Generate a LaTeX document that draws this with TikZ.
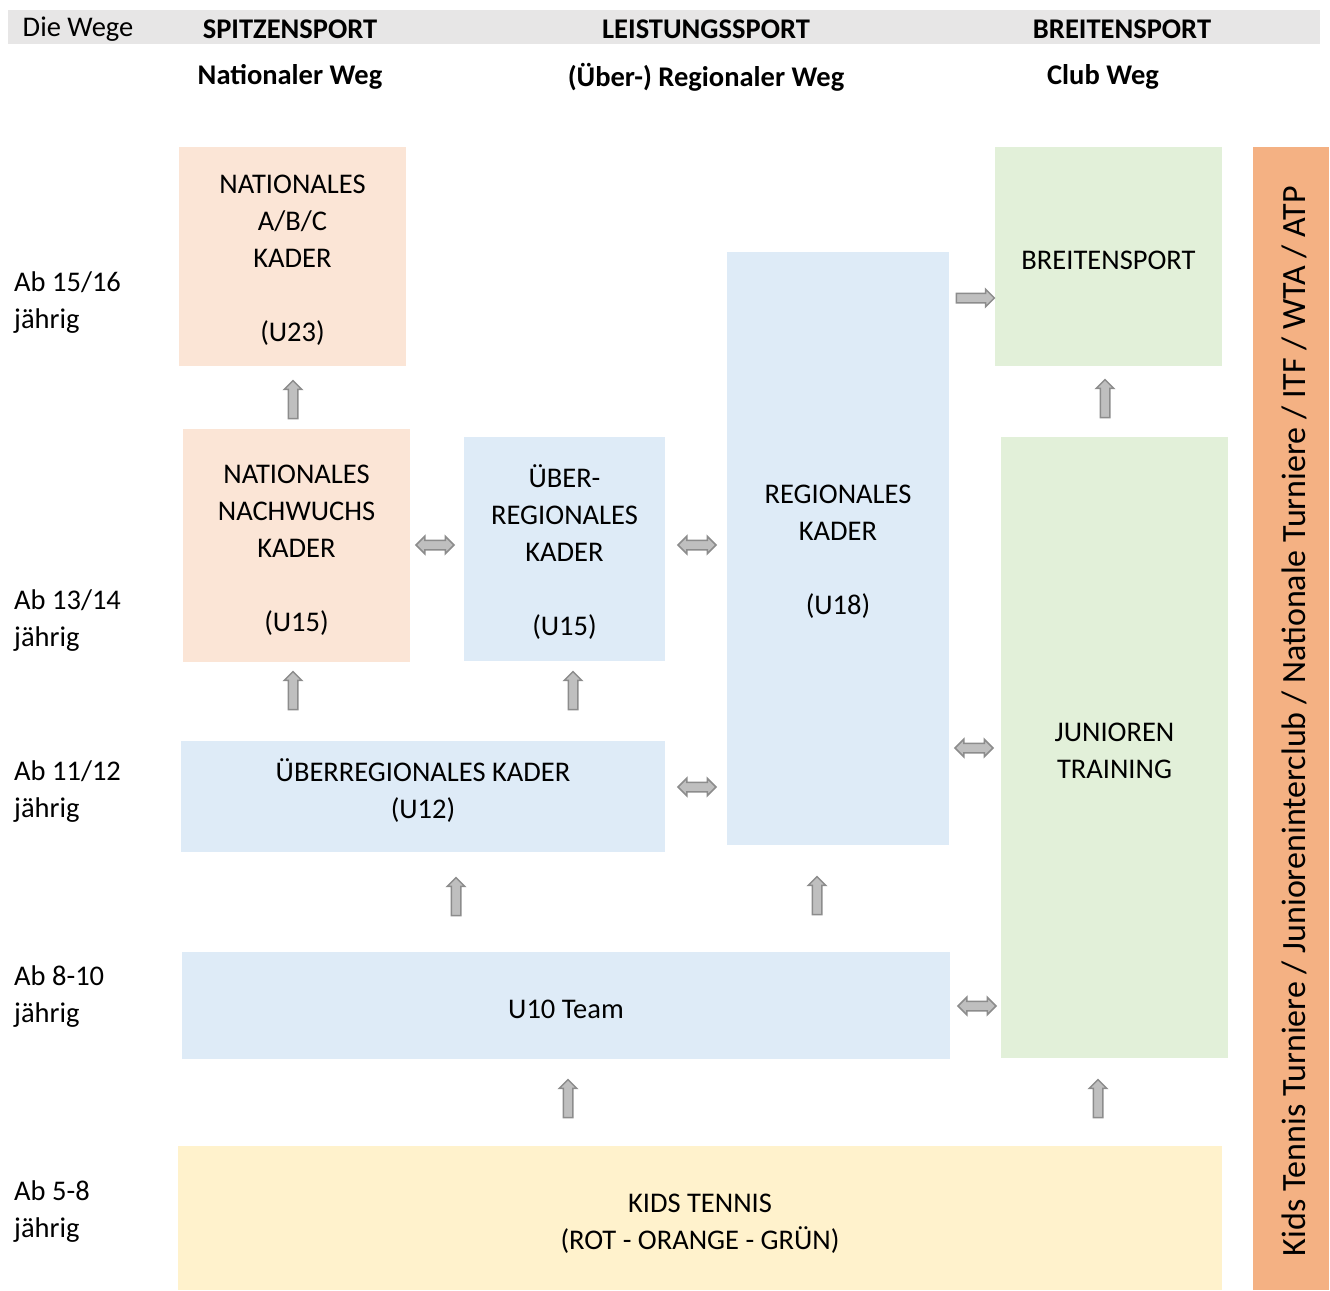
\documentclass[tikz,border=0pt]{standalone}
\usepackage{fontspec}
\setmainfont{Carlito}
\usetikzlibrary{shapes.arrows}
\definecolor{peach}{HTML}{FBE5D6}
\definecolor{lblue}{HTML}{DEEBF7}
\definecolor{lgreen}{HTML}{E2F0D9}
\definecolor{lyellow}{HTML}{FFF2CC}
\definecolor{orangebar}{HTML}{F4B183}
\definecolor{headgray}{HTML}{E7E6E6}
\definecolor{arrfill}{HTML}{BFBFBF}
\definecolor{arrdraw}{HTML}{8C8C8C}
\tikzset{
  txt/.style={font=\fontsize{28.5}{37}\selectfont, inner sep=0pt},
  hdr/.style={txt, font=\fontsize{28.5}{37}\selectfont\bfseries},
  uparr/.style={single arrow, draw=arrdraw, fill=arrfill, line width=1.5pt,
    minimum height=38pt, inner sep=4pt, single arrow head extend=4pt, shape border rotate=90},
  rarr/.style={single arrow, draw=arrdraw, fill=arrfill, line width=1.5pt,
    minimum height=38pt, inner sep=4pt, single arrow head extend=4pt},
  darr/.style={double arrow, draw=arrdraw, fill=arrfill, line width=1.5pt,
    minimum height=38pt, inner sep=4pt, double arrow head extend=4pt},
  lbl/.style={txt, align=left, anchor=west}
}
\begin{document}
\begin{tikzpicture}[x=1pt,y=-1pt]
\useasboundingbox (0,0) rectangle (1330,1290);
% header bar
\fill[headgray] (8,10) rectangle (1320,44);
\node[txt] (hdie) at (78,29) {Die Wege};
\node[hdr] (hspitz) at (290,29) {SPITZENSPORT};
\node[hdr] (hleist) at (706,29) {LEISTUNGSSPORT};
\node[hdr] (hbreit) at (1122,29) {BREITENSPORT};
\node[hdr] (snat) at (290,77) {Nationaler Weg};
\node[hdr] (sreg) at (706,77) {(Über-) Regionaler Weg};
\node[hdr] (sclub) at (1103,77) {Club Weg};
% age labels
\node[lbl] (a1) at (14,303) {Ab 15/16\\jährig};
\node[lbl] (a2) at (14,621) {Ab 13/14\\jährig};
\node[lbl] (a3) at (14,792) {Ab 11/12\\jährig};
\node[lbl] (a4) at (14,997) {Ab 8-10\\jährig};
\node[lbl] (a5) at (14,1212) {Ab 5-8\\jährig};
% boxes
\fill[peach] (179,147) rectangle (406,366);
\node[txt,align=center] (nabc) at (292.5,260) {NATIONALES\\A/B/C\\KADER\\[37pt](U23)};
\fill[peach] (183,429) rectangle (410,662);
\node[txt,align=center] (nnk) at (296.5,550) {NATIONALES\\NACHWUCHS\\KADER\\[37pt](U15)};
\fill[lblue] (464,437) rectangle (665,661);
\node[txt,align=center] (urk) at (564.5,552) {ÜBER-\\REGIONALES\\KADER\\[37pt](U15)};
\fill[lblue] (727,252) rectangle (949,845);
\node[txt,align=center] (rk) at (838,552) {REGIONALES\\KADER\\[37pt](U18)};
\fill[lgreen] (995,147) rectangle (1222,366);
\node[txt,align=center] (bs) at (1108.5,260) {BREITENSPORT};
\fill[lgreen] (1001,437) rectangle (1228,1058);
\node[txt,align=center] (jt) at (1114.5,751) {JUNIOREN\\TRAINING};
\fill[lblue] (181,741) rectangle (665,852);
\node[txt,align=center] (uk12) at (423,791) {ÜBERREGIONALES KADER\\(U12)};
\fill[lblue] (182,952) rectangle (950,1059);
\node[txt,align=center] (u10) at (566,1009) {U10 Team};
\fill[lyellow] (178,1146) rectangle (1222,1290);
\node[txt,align=center] (kids) at (700,1224) {KIDS TENNIS\\(ROT - ORANGE - GRÜN)};
\fill[orangebar] (1253,147) rectangle (1329,1290);
\node[txt,font=\fontsize{34}{40}\selectfont,rotate=90] (turn) at (1294,721) {Kids Tennis Turniere / Junioreninterclub / Nationale Turniere / ITF / WTA / ATP};
% block arrows
\node[uparr] (up1) at (293,402) {};
\node[uparr] (up2) at (1105,401) {};
\node[uparr] (up3) at (293,693) {};
\node[uparr] (up4) at (573,693) {};
\node[uparr] (up5) at (456,899) {};
\node[uparr] (up6) at (817,898) {};
\node[uparr] (up7) at (568,1101) {};
\node[uparr] (up8) at (1098,1101) {};
\node[darr] (d1) at (435,545) {};
\node[darr] (d2) at (697,545) {};
\node[rarr] (r1) at (973,298) {};
\node[darr] (d3) at (974,748) {};
\node[darr] (d4) at (697,787) {};
\node[darr] (d5) at (977,1006) {};
\end{tikzpicture}
\end{document}
